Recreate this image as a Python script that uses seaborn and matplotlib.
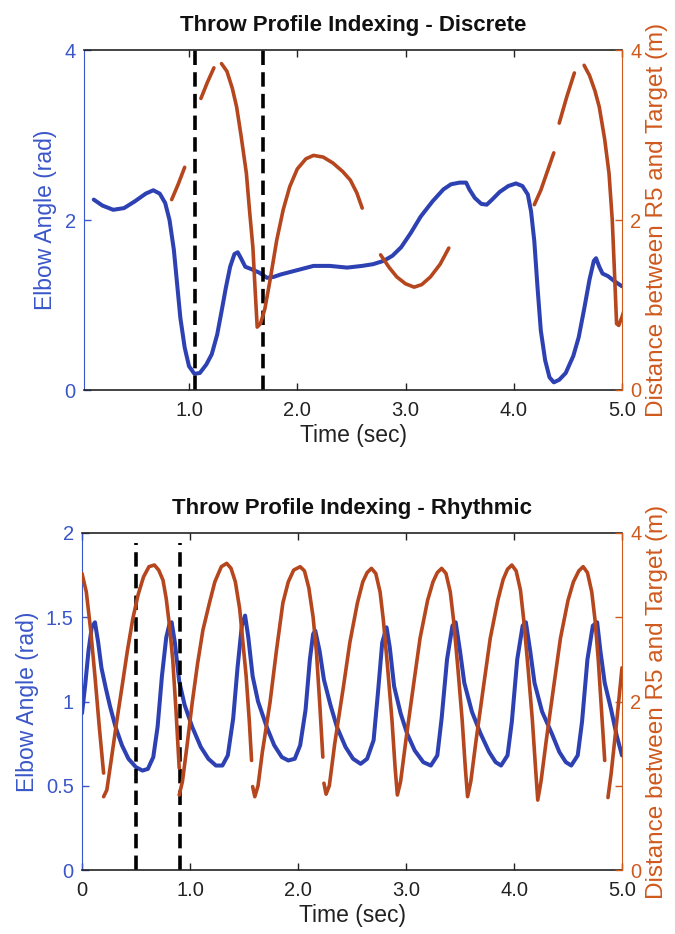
import numpy as np
import pandas as pd
import matplotlib
matplotlib.use("Agg")
import matplotlib.pyplot as plt
import seaborn as sns

sns.set_style("white")
plt.rcParams['font.family'] = ['Liberation Sans', 'DejaVu Sans']

BLUE = "#2d41b2"
ORANGE = "#b5461d"
BLUE_TXT = "#3a56c8"
ORANGE_TXT = "#cf5a1e"

# ---------------- Discrete (top) ----------------
top_blue_t = [0.12, 0.2, 0.3, 0.4, 0.5, 0.6, 0.67, 0.73, 0.78, 0.82, 0.86, 0.89, 0.92, 0.96, 1.0,
              1.05, 1.1, 1.16, 1.21, 1.26, 1.3, 1.34, 1.38, 1.42, 1.45, 1.48, 1.52, 1.58, 1.65,
              1.72, 1.78, 1.85, 2.0, 2.15, 2.3, 2.46, 2.6, 2.7, 2.8, 2.88, 2.96, 3.05, 3.14, 3.25,
              3.35, 3.42, 3.5, 3.56, 3.59, 3.64, 3.7, 3.75, 3.8, 3.87, 3.95, 4.02, 4.08, 4.13,
              4.16, 4.19, 4.22, 4.25, 4.29, 4.33, 4.37, 4.42, 4.48, 4.55, 4.6, 4.65, 4.7, 4.74,
              4.76, 4.79, 4.82, 4.87, 4.93, 5.0]
top_blue_v = [2.24, 2.17, 2.12, 2.14, 2.22, 2.31, 2.35, 2.31, 2.2, 2.0, 1.65, 1.25, 0.85, 0.5, 0.28,
              0.19, 0.2, 0.3, 0.42, 0.65, 0.92, 1.2, 1.45, 1.6, 1.62, 1.55, 1.45, 1.42, 1.38,
              1.32, 1.33, 1.36, 1.41, 1.46, 1.46, 1.44, 1.46, 1.48, 1.52, 1.58, 1.68, 1.85, 2.04, 2.22,
              2.36, 2.42, 2.44, 2.44, 2.36, 2.26, 2.19, 2.18, 2.24, 2.33, 2.4, 2.43, 2.4, 2.3,
              2.1, 1.75, 1.2, 0.7, 0.35, 0.15, 0.09, 0.12, 0.2, 0.4, 0.62, 0.95, 1.3, 1.52,
              1.55, 1.45, 1.37, 1.34, 1.28, 1.22]

top_or_seg = [1, 1, 1,
              2, 2, 2,
              3, 3, 3, 3, 3, 3, 3, 3, 3, 3, 3, 3, 3, 3, 3, 3, 3, 3, 3, 3, 3, 3, 3, 3, 3,
              4, 4, 4, 4, 4, 4, 4, 4, 4,
              5, 5, 5, 5,
              6, 6, 6,
              7, 7, 7, 7, 7, 7, 7, 7, 7, 7, 7, 7]
top_or_t = [0.84, 0.9, 0.96,
            1.11, 1.17, 1.23,
            1.30, 1.35, 1.40, 1.44, 1.48, 1.53, 1.56, 1.59, 1.61, 1.63, 1.66, 1.70, 1.75, 1.81,
            1.87, 1.93, 2.0, 2.08, 2.15, 2.24, 2.33, 2.42, 2.49, 2.55, 2.6,
            2.77, 2.85, 2.92, 3.0, 3.08, 3.15, 3.23, 3.32, 3.4,
            4.19, 4.25, 4.31, 4.37,
            4.42, 4.49, 4.56,
            4.65, 4.7, 4.75, 4.79, 4.84, 4.88, 4.91, 4.93, 4.95, 4.97, 5.0, 5.03]
top_or_v = [2.24, 2.42, 2.62,
            3.43, 3.62, 3.79,
            3.84, 3.75, 3.55, 3.33, 3.0, 2.55, 2.1, 1.68, 1.2, 0.74, 0.78, 0.95, 1.3, 1.76,
            2.12, 2.39, 2.6, 2.72, 2.76, 2.74, 2.67, 2.57, 2.47, 2.32, 2.14,
            1.59, 1.44, 1.33, 1.25, 1.21, 1.24, 1.33, 1.48, 1.67,
            2.18, 2.35, 2.57, 2.79,
            3.14, 3.45, 3.73,
            3.82, 3.7, 3.52, 3.33, 2.95, 2.55, 2.0, 1.4, 0.78, 0.76, 0.86, 0.98]
top_markers = [1.055, 1.68]

# ---------------- Rhythmic (bottom) ----------------
bot_blue_t = [0.0, 0.03, 0.06, 0.09, 0.12, 0.15, 0.18, 0.22, 0.26, 0.31, 0.37, 0.43, 0.5, 0.56, 0.61,
              0.66, 0.7, 0.74, 0.78, 0.81, 0.83, 0.86, 0.9, 0.95, 1.02, 1.1, 1.17, 1.24, 1.3, 1.35,
              1.4, 1.44, 1.48, 1.51, 1.54, 1.58, 1.63, 1.71, 1.78, 1.85, 1.91, 1.97, 2.02, 2.07,
              2.11, 2.14, 2.16, 2.2, 2.24, 2.3, 2.36, 2.44, 2.51, 2.58, 2.64, 2.7, 2.74, 2.78,
              2.82, 2.85, 2.89, 2.95, 3.01, 3.08, 3.16, 3.23, 3.29, 3.33, 3.38, 3.43, 3.46, 3.5,
              3.54, 3.61, 3.69, 3.77, 3.83, 3.88, 3.94, 3.98, 4.03, 4.08, 4.11, 4.15, 4.19, 4.26,
              4.35, 4.42, 4.48, 4.53, 4.59, 4.63, 4.68, 4.73, 4.77, 4.8, 4.84, 4.9, 4.95, 5.0]
bot_blue_v = [0.93, 1.1, 1.3, 1.44, 1.47, 1.35, 1.2, 1.08, 0.97, 0.85, 0.74, 0.66, 0.61, 0.59, 0.6,
              0.67, 0.85, 1.15, 1.38, 1.46, 1.47, 1.35, 1.12, 0.98, 0.85, 0.73, 0.66, 0.62, 0.62, 0.68,
              0.9, 1.2, 1.45, 1.51, 1.38, 1.15, 1.0, 0.85, 0.74, 0.67, 0.65, 0.66, 0.74, 0.95,
              1.25, 1.4, 1.42, 1.3, 1.13, 0.98, 0.85, 0.73, 0.66, 0.63, 0.66, 0.77, 1.05, 1.35,
              1.44, 1.32, 1.09, 0.93, 0.81, 0.71, 0.64, 0.62, 0.68, 0.9, 1.25, 1.45, 1.47, 1.3,
              1.11, 0.94, 0.81, 0.7, 0.64, 0.62, 0.68, 0.88, 1.25, 1.45, 1.47, 1.3, 1.11, 0.94,
              0.81, 0.7, 0.64, 0.62, 0.68, 0.88, 1.25, 1.45, 1.47, 1.3, 1.11, 0.95, 0.8, 0.68]

bot_or_seg = ([1] * 6 + [2] * 18 + [3] * 17 + [4] * 16 + [5] * 61 + [6] * 4)
bot_or_t = [0.0, 0.04, 0.08, 0.12, 0.16, 0.2,
            0.2, 0.23, 0.27, 0.32, 0.37, 0.42, 0.47, 0.52, 0.57, 0.62, 0.67, 0.71, 0.75, 0.78,
            0.81, 0.84, 0.87, 0.9,
            0.90, 0.93, 0.97, 1.02, 1.07, 1.12, 1.18, 1.23, 1.29, 1.34, 1.38, 1.42, 1.46, 1.49,
            1.52, 1.55, 1.57,
            1.58, 1.60, 1.63, 1.67, 1.74, 1.80, 1.86, 1.91, 1.96, 2.02, 2.06, 2.10, 2.14, 2.17,
            2.2, 2.23,
            2.24, 2.26, 2.29, 2.34, 2.42, 2.48, 2.55, 2.6, 2.64, 2.68, 2.72, 2.76, 2.79, 2.83,
            2.87, 2.90, 2.92, 2.95, 3.0, 3.07, 3.13, 3.2, 3.25, 3.29, 3.33, 3.37, 3.41, 3.44,
            3.48, 3.52, 3.55, 3.57, 3.6, 3.65, 3.72, 3.78, 3.85, 3.9, 3.94, 3.98, 4.02, 4.06,
            4.09, 4.13, 4.17, 4.2, 4.22, 4.25, 4.3, 4.37, 4.43, 4.5, 4.55, 4.6, 4.64, 4.68,
            4.72, 4.75, 4.78, 4.81, 4.84,
            4.87, 4.9, 4.95, 5.0]
bot_or_v = [3.52, 3.3, 2.85, 2.3, 1.7, 1.15,
            0.87, 0.95, 1.3, 1.75, 2.17, 2.6, 2.98, 3.27, 3.48, 3.6, 3.62, 3.56, 3.44, 3.22,
            2.9, 2.5, 1.9, 1.21,
            0.89, 1.05, 1.45, 1.98, 2.45, 2.85, 3.17, 3.42, 3.6, 3.64, 3.58, 3.42, 3.1, 2.7,
            2.3, 1.75, 1.3,
            0.99, 0.87, 1.0, 1.4, 1.98, 2.6, 3.17, 3.42, 3.56, 3.6, 3.55, 3.35, 3.0, 2.6,
            2.0, 1.34,
            1.03, 0.9, 1.0, 1.5, 2.17, 2.7, 3.17, 3.42, 3.53, 3.58, 3.52, 3.3, 2.97, 2.4,
            1.78, 1.2, 0.89, 1.05, 1.55, 2.2, 2.75, 3.2, 3.42, 3.53, 3.58, 3.52, 3.3, 2.97,
            2.4, 1.78, 1.2, 0.87, 1.05, 1.55, 2.2, 2.75, 3.2, 3.45, 3.57, 3.62, 3.55, 3.32,
            2.97, 2.4, 1.78, 1.2, 0.83, 1.05, 1.55, 2.2, 2.75, 3.2, 3.42, 3.55, 3.6, 3.53,
            3.3, 2.97, 2.5, 1.9, 1.3,
            0.86, 1.15, 1.75, 2.4]
bot_markers = [0.50, 0.91]

top_xticks = [1.0, 2.0, 3.0, 4.0, 5.0]
top_xlabels = ["1.0", "2.0", "3.0", "4.0", "5.0"]
bot_xticks = [0.0, 1.0, 2.0, 3.0, 4.0, 5.0]
bot_xlabels = ["0", "1.0", "2.0", "3.0", "4.0", "5.0"]
top_left_ticks = [0, 2, 4]
bot_left_ticks = [0, 0.5, 1, 1.5, 2]
bot_left_labels = ["0", "0.5", "1", "1.5", "2"]
right_ticks_top = [0, 2, 4]
right_ticks_bot = [0, 1, 2, 3, 4]
right_labels_bot = ["0", "", "2", "", "4"]

fig = plt.figure(figsize=(6.75, 9.34), dpi=100)
ax1 = fig.add_axes([84 / 675, 1 - 390 / 934, (622 - 84) / 675, 340 / 934])
ax3 = fig.add_axes([82 / 675, 1 - 870 / 934, (622 - 82) / 675, 337 / 934])


def style(ax, ax2, title, xlim, xticks, xlabels, lticks, llabels, rticks, rlabels, ylim_l):
    ax.set_xlim(*xlim)
    ax.set_ylim(*ylim_l)
    ax2.set_ylim(0, 4)
    ax.set_xticks(xticks)
    ax.set_xticklabels(xlabels)
    ax.set_yticks(lticks)
    ax.set_yticklabels(llabels)
    ax2.set_yticks(rticks)
    ax2.set_yticklabels(rlabels)
    ax.tick_params(axis='x', direction='in', length=5, width=1, top=True, bottom=True,
                   labelsize=14.5, colors='#222222', pad=8)
    ax.tick_params(axis='y', direction='in', length=5, width=1, left=True, right=False,
                   labelsize=14.5, colors=BLUE_TXT, pad=6)
    ax2.tick_params(axis='y', direction='in', length=5, width=1, right=True,
                    labelsize=14.5, colors=ORANGE_TXT, pad=6)
    for s in ['top', 'bottom']:
        ax.spines[s].set_color('#222222')
        ax.spines[s].set_linewidth(1.2)
    ax.spines['left'].set_color(BLUE_TXT)
    ax2.spines['left'].set_visible(False)
    ax2.spines['top'].set_visible(False)
    ax2.spines['bottom'].set_visible(False)
    ax2.spines['right'].set_color(ORANGE_TXT)
    ax.spines['right'].set_visible(False)
    ax.set_xlabel("Time (sec)", fontsize=16.5, color='#222222', labelpad=3)
    ax.set_ylabel("Elbow Angle (rad)", fontsize=16.5, color=BLUE_TXT, labelpad=5)
    ax2.set_ylabel("Distance between R5 and Target (m)", fontsize=17.5, color=ORANGE_TXT,
                   labelpad=3)
    ax.set_title(title, fontsize=16, fontweight='bold', color='#111111', pad=14)


# top
ax2 = ax1.twinx()
d_tb = pd.DataFrame({"t": top_blue_t, "v": top_blue_v})
sns.lineplot(data=d_tb, x="t", y="v", ax=ax1, color=BLUE, lw=2.9, sort=False, estimator=None)
d_to = pd.DataFrame({"t": top_or_t, "v": top_or_v, "seg": top_or_seg})
for s, g in d_to.groupby("seg"):
    sns.lineplot(data=g, x="t", y="v", ax=ax2, color=ORANGE, lw=2.6, sort=False, estimator=None)
for m in top_markers:
    ax1.axvline(m, color='black', lw=2.6, ls=(0, (4, 2)), ymin=0, ymax=1)
style(ax1, ax2, "Throw Profile Indexing - Discrete", (0.03, 5.0), top_xticks, top_xlabels,
      top_left_ticks, [str(v) for v in top_left_ticks], right_ticks_top,
      [str(v) for v in right_ticks_top], (0, 4))

# bottom
ax4 = ax3.twinx()
d_bb = pd.DataFrame({"t": bot_blue_t, "v": bot_blue_v})
sns.lineplot(data=d_bb, x="t", y="v", ax=ax3, color=BLUE, lw=2.9, sort=False, estimator=None)
d_bo = pd.DataFrame({"t": bot_or_t, "v": bot_or_v, "seg": bot_or_seg})
for s, g in d_bo.groupby("seg"):
    sns.lineplot(data=g, x="t", y="v", ax=ax4, color=ORANGE, lw=2.6, sort=False, estimator=None)
for m in bot_markers:
    ax3.axvline(m, color='black', lw=2.6, ls=(0, (4, 2)), ymin=0, ymax=0.97)
style(ax3, ax4, "Throw Profile Indexing - Rhythmic", (0.0, 5.0), bot_xticks, bot_xlabels,
      bot_left_ticks, bot_left_labels, right_ticks_bot, right_labels_bot, (0, 2))

for a in (ax1, ax2, ax3, ax4):
    a.set_facecolor('none')
    if a.get_legend() is not None:
        a.get_legend().remove()
ax2.set_xlabel("")
ax4.set_xlabel("")

fig.savefig("out.png", dpi=100, facecolor='white')
